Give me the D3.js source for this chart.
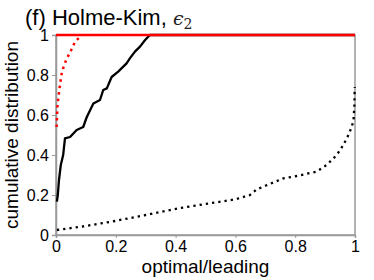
<!DOCTYPE html>
<html>
<head>
<meta charset="utf-8">
<script src="https://cdn.jsdelivr.net/npm/d3@7"></script>
<style>
  body { margin: 0; background: #fff; }
  svg { display: block; font-family: "Liberation Sans", Arial, sans-serif; }
</style>
</head>
<body>
<div id="chart"></div>
<script>
// Curves, as [optimal/leading, cumulative distribution].
var redSolid = [[0, 1], [1, 1]];
var redDotted = [[0.002, 0.54], [0.005, 0.65], [0.011, 0.725], [0.018, 0.80], [0.027, 0.85],
  [0.039, 0.89], [0.051, 0.925], [0.064, 0.967], [0.087, 1]];
var blackSolid = [[0.003, 0.167], [0.006, 0.2], [0.01, 0.275], [0.016, 0.35], [0.024, 0.40],
  [0.03, 0.483], [0.047, 0.49], [0.069, 0.525], [0.091, 0.54], [0.103, 0.59], [0.125, 0.658],
  [0.147, 0.675], [0.158, 0.725], [0.17, 0.733], [0.186, 0.79], [0.208, 0.817], [0.236, 0.858],
  [0.247, 0.883], [0.264, 0.917], [0.281, 0.942], [0.298, 0.975], [0.314, 1], [1, 1]];
var blackDotted = [[0.003, 0.025], [0.1, 0.045], [0.197, 0.07], [0.3, 0.1], [0.409, 0.133],
  [0.5, 0.155], [0.599, 0.178], [0.649, 0.2], [0.671, 0.228], [0.76, 0.283], [0.805, 0.295],
  [0.872, 0.317], [0.905, 0.35], [0.939, 0.4], [0.961, 0.45], [0.978, 0.5], [0.989, 0.54],
  [0.995, 0.575], [0.998, 0.65], [0.999, 0.74]];
var xTicks = [0, 0.2, 0.4, 0.6, 0.8, 1];
var yTicks = [0, 0.2, 0.4, 0.6, 0.8, 1];

var width = 374, height = 280;
var plotLeft = 56, plotRight = 355, plotTop = 35, plotBottom = 235;

var svg = d3.select("#chart").append("svg")
  .attr("width", width)
  .attr("height", height);

var x = d3.scaleLinear().domain([0, 1]).range([plotLeft, plotRight]);
var y = d3.scaleLinear().domain([0, 1]).range([plotBottom, plotTop]);
var fmt = function(d) { return d === 0 || d === 1 ? String(d) : d3.format(".1f")(d); };

// box
svg.append("rect")
  .attr("x", plotLeft).attr("y", plotTop)
  .attr("width", plotRight - plotLeft).attr("height", plotBottom - plotTop)
  .attr("fill", "none").attr("stroke", "#999").attr("stroke-width", 1.5);

// axes, ticks outward
var xAxis = svg.append("g")
  .attr("transform", "translate(0," + plotBottom + ")")
  .call(d3.axisBottom(x).tickValues(xTicks).tickFormat(fmt).tickSize(3).tickPadding(3));
var yAxis = svg.append("g")
  .attr("transform", "translate(" + plotLeft + ",0)")
  .call(d3.axisLeft(y).tickValues(yTicks).tickFormat(fmt).tickSize(4).tickPadding(3));
[xAxis, yAxis].forEach(function(g) {
  g.attr("font-family", null).attr("font-size", null);
  g.select(".domain").attr("stroke", "#999").attr("stroke-width", 1.5);
  g.selectAll(".tick line").attr("stroke", "#999");
  g.selectAll(".tick text").attr("fill", "#000").style("font-size", "16px");
});

var line = d3.line().x(function(d) { return x(d[0]); }).y(function(d) { return y(d[1]); });

svg.append("path").datum(blackDotted).attr("d", line)
  .attr("fill", "none").attr("stroke", "#000").attr("stroke-width", 2.3)
  .attr("stroke-dasharray", "2.3,4");
svg.append("path").datum(blackSolid).attr("d", line)
  .attr("fill", "none").attr("stroke", "#000").attr("stroke-width", 2.3)
  .attr("stroke-linejoin", "round");
svg.append("path").datum(redDotted).attr("d", line)
  .attr("fill", "none").attr("stroke", "#ff0000").attr("stroke-width", 2.5)
  .attr("stroke-dasharray", "2.5,4");
svg.append("path").datum(redSolid).attr("d", line)
  .attr("fill", "none").attr("stroke", "#ff0000").attr("stroke-width", 2.5);

// title
var title = svg.append("text")
  .attr("x", 25).attr("y", 25)
  .style("font-size", "22px")
  .text("(f) Holme-Kim, ");
title.append("tspan")
  .style("font-family", "DejaVu Serif, serif").style("font-style", "italic")
  .style("font-size", "19px").attr("fill", "#222")
  .text("\u03f5");
title.append("tspan")
  .style("font-family", "DejaVu Serif, serif")
  .style("font-size", "14px").attr("dy", 4).attr("fill", "#222")
  .text("2");

// axis labels
svg.append("text")
  .attr("x", (plotLeft + plotRight) / 2).attr("y", 273)
  .attr("text-anchor", "middle")
  .style("font-size", "19px")
  .text("optimal/leading");
svg.append("text")
  .attr("transform", "translate(18," + (plotTop + plotBottom) / 2 + ") rotate(-90)")
  .attr("text-anchor", "middle")
  .style("font-size", "19px")
  .text("cumulative distribution");
</script>
</body>
</html>
